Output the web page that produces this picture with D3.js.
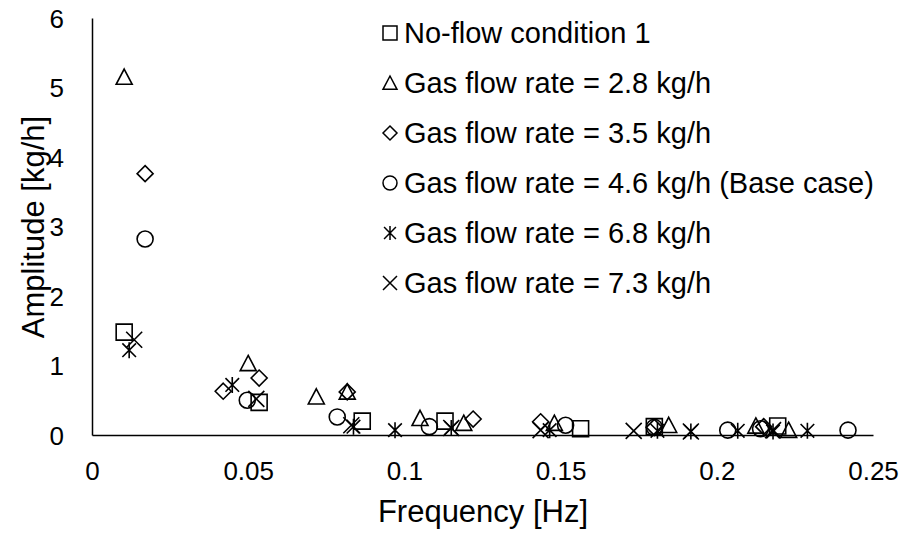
<!DOCTYPE html>
<html>
<head>
<meta charset="utf-8">
<script src="https://cdn.jsdelivr.net/npm/d3@7"></script>
<style>
  html, body { margin: 0; padding: 0; background: #fff; }
  svg { display: block; font-family: Arial, "Liberation Sans", sans-serif; }
</style>
</head>
<body>
<svg id="chart" width="907" height="536"></svg>
<script>
// ---- Data (frequency in Hz, amplitude in kg/h) ----
const seriesNames = [
  "No-flow condition 1",
  "Gas flow rate = 2.8 kg/h",
  "Gas flow rate = 3.5 kg/h",
  "Gas flow rate = 4.6 kg/h (Base case)",
  "Gas flow rate = 6.8 kg/h",
  "Gas flow rate = 7.3 kg/h"
];
const markerTypes = ["square", "triangle", "diamond", "circle", "star", "x"];

const noFlowFreq = [0.0103, 0.0535, 0.0865, 0.113, 0.1564, 0.180, 0.2195];
const noFlowAmp  = [1.48, 0.47, 0.20, 0.20, 0.09, 0.12, 0.13];

const gas28Freq = [0.0103, 0.050, 0.0718, 0.0817, 0.105, 0.119, 0.148, 0.1846, 0.2125, 0.223];
const gas28Amp  = [5.15, 1.03, 0.55, 0.62, 0.24, 0.17, 0.17, 0.14, 0.13, 0.07];

const gas35Freq = [0.017, 0.042, 0.0535, 0.0817, 0.122, 0.1436, 0.180, 0.215];
const gas35Amp  = [3.76, 0.63, 0.82, 0.62, 0.23, 0.19, 0.11, 0.12];

const gas46Freq = [0.017, 0.0497, 0.0785, 0.108, 0.1516, 0.180, 0.2035, 0.214, 0.242];
const gas46Amp  = [2.82, 0.50, 0.26, 0.12, 0.14, 0.11, 0.07, 0.09, 0.07];

const gas68Freq = [0.0119, 0.0449, 0.0837, 0.097, 0.115, 0.1465, 0.181, 0.1917, 0.2067, 0.218, 0.229];
const gas68Amp  = [1.22, 0.72, 0.12, 0.07, 0.10, 0.07, 0.06, 0.05, 0.06, 0.05, 0.06];

const gas73Freq = [0.0135, 0.0526, 0.083, 0.115, 0.1436, 0.1734, 0.1917, 0.218];
const gas73Amp  = [1.37, 0.52, 0.14, 0.10, 0.07, 0.06, 0.05, 0.07];

const xTicks = [0, 0.05, 0.1, 0.15, 0.2, 0.25];
const yTicks = [0, 1, 2, 3, 4, 5, 6];

const allFreq = [noFlowFreq, gas28Freq, gas35Freq, gas46Freq, gas68Freq, gas73Freq];
const allAmp  = [noFlowAmp, gas28Amp, gas35Amp, gas46Amp, gas68Amp, gas73Amp];

// ---- Layout ----
const svg = d3.select("#chart");
const plotLeft = 92, plotRight = 873, plotTop = 18, plotBottom = 435;

const x = d3.scaleLinear().domain([0, 0.25]).range([plotLeft, plotRight]);
const y = d3.scaleLinear().domain([0, 6]).range([plotBottom, plotTop]);

function markerPath(type, h) {
  const p = d3.path();
  switch (type) {
    case "square":
      p.rect(-h, -h, 2 * h, 2 * h); break;
    case "triangle":
      p.moveTo(0, -h); p.lineTo(h, h * 0.9); p.lineTo(-h, h * 0.9); p.closePath(); break;
    case "diamond":
      p.moveTo(0, -h); p.lineTo(h, 0); p.lineTo(0, h); p.lineTo(-h, 0); p.closePath(); break;
    case "circle":
      p.moveTo(h, 0); p.arc(0, 0, h, 0, 2 * Math.PI); p.closePath(); break;
    case "star":
      p.moveTo(0, -h); p.lineTo(0, h);
      p.moveTo(-h * 0.85, -h * 0.85); p.lineTo(h * 0.85, h * 0.85);
      p.moveTo(h * 0.85, -h * 0.85); p.lineTo(-h * 0.85, h * 0.85); break;
    case "x":
      p.moveTo(-h, -h); p.lineTo(h, h);
      p.moveTo(h, -h); p.lineTo(-h, h); break;
  }
  return p.toString();
}

// ---- Axes ----
const xAxis = d3.axisBottom(x).tickValues(xTicks).tickSize(0).tickPadding(0)
  .tickFormat(d => d3.format("~g")(d));
const yAxis = d3.axisLeft(y).tickValues(yTicks).tickSize(0).tickPadding(0)
  .tickFormat(d3.format("d"));

const gx = svg.append("g").attr("transform", `translate(0,${plotBottom})`).call(xAxis);
gx.select(".domain").attr("stroke", "#000").attr("stroke-width", 1.5);
gx.selectAll("text").attr("font-size", 26).attr("fill", "#000")
  .attr("font-family", "Arial, 'Liberation Sans', sans-serif")
  .attr("dy", null).attr("y", 45);

const gy = svg.append("g").attr("transform", `translate(${plotLeft},0)`).call(yAxis);
gy.select(".domain").attr("stroke", "#000").attr("stroke-width", 1.5);
gy.selectAll("text").attr("font-size", 26).attr("fill", "#000")
  .attr("font-family", "Arial, 'Liberation Sans', sans-serif")
  .attr("x", -28).attr("dy", "0.35em");

// Axis titles
svg.append("text")
  .attr("x", 483).attr("y", 522)
  .attr("text-anchor", "middle")
  .attr("font-size", 31)
  .text("Frequency [Hz]");

svg.append("text")
  .attr("transform", "translate(33,227) rotate(-90)")
  .attr("text-anchor", "middle")
  .attr("dy", "0.35em")
  .attr("font-size", 31)
  .text("Amplitude [kg/h]");

// ---- Points ----
allFreq.forEach((fs, si) => {
  const pts = fs.map((f, i) => ({ f, a: allAmp[si][i] }));
  svg.append("g")
    .selectAll("path")
    .data(pts)
    .join("path")
    .attr("transform", d => `translate(${x(d.f)},${y(d.a)})`)
    .attr("d", markerPath(markerTypes[si], 8))
    .attr("fill", "none")
    .attr("stroke", "#000")
    .attr("stroke-width", 1.6);
});

// ---- Legend ----
const legend = svg.append("g");
seriesNames.forEach((name, i) => {
  const cy = 33 + i * 50;
  legend.append("path")
    .attr("transform", `translate(390,${cy})`)
    .attr("d", markerPath(markerTypes[i], 7))
    .attr("fill", "none").attr("stroke", "#000").attr("stroke-width", 1.5);
  legend.append("text")
    .attr("x", 404).attr("y", cy)
    .attr("dy", "0.35em")
    .attr("font-size", 29)
    .text(name);
});
</script>
</body>
</html>
